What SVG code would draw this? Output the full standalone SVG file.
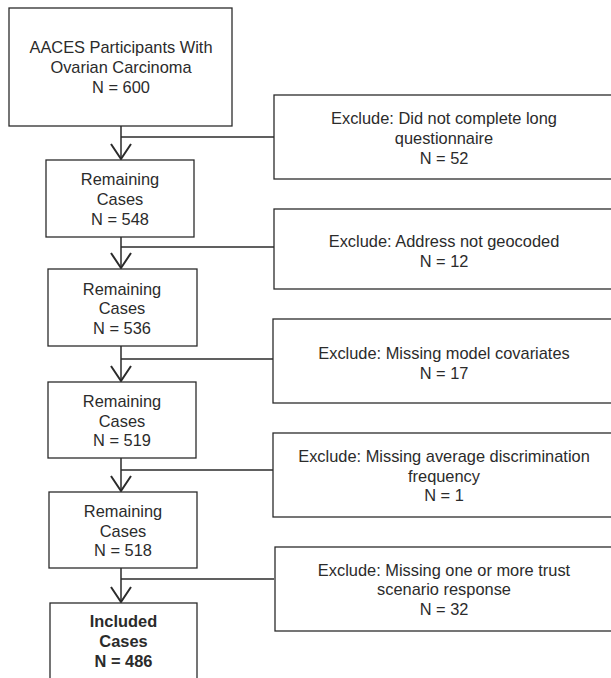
<svg xmlns="http://www.w3.org/2000/svg" width="611" height="678" viewBox="0 0 611 678">
<defs>
<style>
.box{fill:#fff;stroke:#2b2b2b;stroke-width:1.3}
.t{font-family:"Liberation Sans",Arial,sans-serif;font-size:16.4px;fill:#2b2b2b;text-anchor:middle}
.b{font-weight:bold}
.c{fill:none;stroke:#2b2b2b;stroke-width:1.5}
</style>
<marker id="ah" markerUnits="userSpaceOnUse" viewBox="-16 -11 17 22" markerWidth="17" markerHeight="22" refX="0" refY="0" orient="auto" overflow="visible">
<path d="M-15,-10 L0,0 L-15,10" fill="none" stroke="#2b2b2b" stroke-width="2"/>
</marker>
</defs>
<rect width="611" height="678" fill="#fff"/>
<g id="connectors">
<line class="c" x1="121" y1="126" x2="121" y2="159" marker-end="url(#ah)"/>
<line class="c" x1="121" y1="137" x2="274" y2="137"/>
<line class="c" x1="121" y1="237" x2="121" y2="268" marker-end="url(#ah)"/>
<line class="c" x1="121" y1="247" x2="274" y2="247"/>
<line class="c" x1="121" y1="346" x2="121" y2="381" marker-end="url(#ah)"/>
<line class="c" x1="121" y1="359" x2="274" y2="359"/>
<line class="c" x1="121" y1="458" x2="121" y2="491" marker-end="url(#ah)"/>
<line class="c" x1="121" y1="470" x2="274" y2="470"/>
<line class="c" x1="121" y1="568" x2="121" y2="602" marker-end="url(#ah)"/>
<line class="c" x1="121" y1="579" x2="274" y2="579"/>
</g>
<g id="start">
<rect class="box" x="9" y="8" width="223" height="118"/>
<text class="t" x="121" y="53">AACES Participants With</text>
<text class="t" x="121" y="73">Ovarian Carcinoma</text>
<text class="t" x="121" y="93">N = 600</text>
</g>
<g id="remaining548">
<rect class="box" x="46" y="160" width="148" height="77"/>
<text class="t" x="120" y="185">Remaining</text>
<text class="t" x="120" y="205">Cases</text>
<text class="t" x="120" y="225">N = 548</text>
</g>
<g id="remaining536">
<rect class="box" x="48" y="269" width="149" height="77"/>
<text class="t" x="122" y="295">Remaining</text>
<text class="t" x="122" y="314">Cases</text>
<text class="t" x="122" y="334">N = 536</text>
</g>
<g id="remaining519">
<rect class="box" x="48" y="382" width="148" height="76"/>
<text class="t" x="122" y="407">Remaining</text>
<text class="t" x="122" y="427">Cases</text>
<text class="t" x="122" y="446">N = 519</text>
</g>
<g id="remaining518">
<rect class="box" x="49" y="492" width="148" height="76"/>
<text class="t" x="123" y="517">Remaining</text>
<text class="t" x="123" y="537">Cases</text>
<text class="t" x="123" y="556">N = 518</text>
</g>
<g id="included">
<rect class="box" x="50" y="603" width="147" height="80"/>
<text class="t b" x="123.5" y="627">Included</text>
<text class="t b" x="123.5" y="647">Cases</text>
<text class="t b" x="123.5" y="667">N = 486</text>
</g>
<g id="exclude1">
<rect class="box" x="274" y="95" width="345" height="84"/>
<text class="t" x="444" y="124">Exclude: Did not complete long</text>
<text class="t" x="444" y="144">questionnaire</text>
<text class="t" x="444" y="164">N = 52</text>
</g>
<g id="exclude2">
<rect class="box" x="274" y="209" width="345" height="80"/>
<text class="t" x="444" y="247">Exclude: Address not geocoded</text>
<text class="t" x="444" y="267">N = 12</text>
</g>
<g id="exclude3">
<rect class="box" x="273" y="319" width="345" height="84"/>
<text class="t" x="444" y="359">Exclude: Missing model covariates</text>
<text class="t" x="444" y="379">N = 17</text>
</g>
<g id="exclude4">
<rect class="box" x="273" y="433" width="345" height="84"/>
<text class="t" x="444" y="462">Exclude: Missing average discrimination</text>
<text class="t" x="444" y="482">frequency</text>
<text class="t" x="444" y="501">N = 1</text>
</g>
<g id="exclude5">
<rect class="box" x="275" y="547" width="345" height="84"/>
<text class="t" x="444" y="576">Exclude: Missing one or more trust</text>
<text class="t" x="444" y="595">scenario response</text>
<text class="t" x="444" y="615">N = 32</text>
</g>
</svg>
